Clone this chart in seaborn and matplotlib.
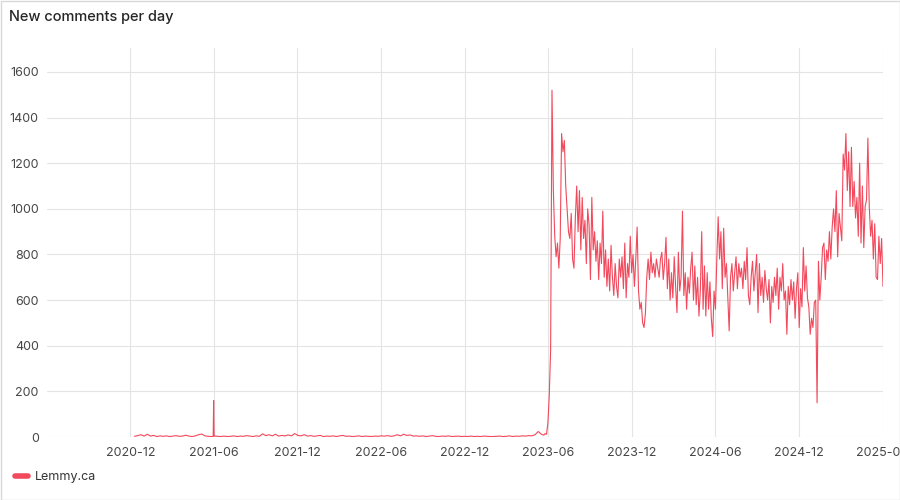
import pandas as pd
import matplotlib.pyplot as plt
import seaborn as sns
from matplotlib.lines import Line2D
from matplotlib.patches import Rectangle
import matplotlib.dates as mdates

# quiet period, one value per week starting 2020-12-10
quiet_start = "2020-12-10"
quiet_values = [
    3, 6, 10, 4, 12, 4, 7, 2, 5, 3, 5, 2, 4, 6, 3, 4, 8, 4, 2, 5, 10, 13, 5, 3, 2, 4,
    3, 2, 4, 2, 3, 5, 2, 4, 3, 6, 4, 2, 5, 3, 14, 6, 10, 5, 12, 4, 7, 5, 9, 5, 15, 7,
    5, 10, 4, 6, 3, 5, 7, 2, 4, 3, 5, 2, 5, 7, 3, 4, 2, 3, 5, 2, 4, 3, 2, 4, 3, 5,
    4, 6, 3, 5, 10, 5, 12, 7, 9, 4, 5, 3, 5, 2, 4, 6, 3, 2, 4, 3, 5, 2, 3, 4, 2, 3,
    2, 4, 2, 3, 2, 4, 3, 2, 2, 3, 4, 2, 3, 5, 2, 4, 3, 5, 4, 6, 5, 10, 24, 12,
]

# single-day spike in the quiet period
spike_dates = ["2021-05-31", "2021-06-01", "2021-06-02"]
spike_values = [3, 160, 4]

# active period, one value every 3 days starting 2023-05-23
active_start = "2023-05-23"
active_values = [
    8, 15, 12, 60, 180, 380, 1520, 1080, 880, 790,
    850, 740, 870, 1330, 1250, 1300, 1100, 1000, 900, 870,
    980, 780, 740, 960, 1100, 900, 1080, 820, 1050, 870,
    950, 760, 1000, 930, 690, 1050, 820, 900, 770, 860,
    690, 850, 760, 990, 700, 820, 660, 780, 640, 840,
    700, 620, 760, 660, 610, 780, 700, 790, 650, 850,
    610, 760, 700, 880, 720, 800, 660, 780, 920, 640,
    560, 590, 500, 480, 540, 700, 780, 690, 810, 720,
    760, 700, 780, 740, 700, 780, 810, 690, 760, 875,
    650, 780, 600, 720, 610, 790, 660, 545, 810, 640,
    700, 990, 620, 720, 560, 700, 630, 740, 810, 600,
    750, 580, 700, 530, 640, 900, 560, 750, 530, 720,
    560, 680, 520, 440, 640, 560, 780, 965, 780, 900,
    650, 915, 700, 760, 610, 465, 700, 760, 640, 720,
    790, 650, 760, 700, 740, 650, 770, 690, 830, 620,
    580, 700, 770, 640, 720, 800, 545, 760, 620, 700,
    590, 730, 650, 600, 690, 500, 660, 590, 700, 620,
    740, 560, 700, 640, 760, 600, 640, 450, 660, 580,
    690, 600, 680, 520, 650, 720, 480, 650, 570, 830,
    640, 750, 610, 570, 450, 520, 480, 590, 600, 150,
    770, 600, 700, 830, 850, 690, 820, 770, 900, 780,
    920, 1000, 900, 1080, 790, 980, 920, 860, 1240, 1170,
    1330, 1080, 1250, 1010, 1270, 1010, 1120, 960, 1050, 880,
    1200, 850, 1100, 830, 1010, 1040, 1310, 1010, 880, 950,
    780, 935, 700, 690, 880, 760, 870, 660,
]

series_name = "Lemmy.ca"
title = "New comments per day"
line_color = "#F2495C"

quiet = pd.DataFrame({
    "date": pd.date_range(quiet_start, periods=len(quiet_values), freq="7D"),
    "comments": quiet_values,
})
spike = pd.DataFrame({"date": pd.to_datetime(spike_dates), "comments": spike_values})
active = pd.DataFrame({
    "date": pd.date_range(active_start, periods=len(active_values), freq="3D"),
    "comments": active_values,
})
df = pd.concat([quiet, spike, active]).sort_values("date").reset_index(drop=True)

sns.set_theme(style="whitegrid")
plt.rcParams["font.family"] = ["Inter", "DejaVu Sans"]

fig = plt.figure(figsize=(9, 5), dpi=100)
ax = fig.add_axes([47 / 900, 1 - 437 / 500, (883 - 47) / 900, (437 - 48) / 500])

sns.lineplot(data=df, x="date", y="comments", ax=ax, color=line_color, linewidth=0.8, legend=False)

ax.set_xlim(pd.Timestamp("2020-06-02"), pd.Timestamp("2025-06-02"))
ax.set_ylim(0, 1705)
ax.set_yticks(range(0, 1601, 200))
ax.xaxis.set_major_locator(mdates.MonthLocator(bymonth=[6, 12]))
ax.xaxis.set_major_formatter(mdates.DateFormatter("%Y-%m"))
ax.set_xlabel("")
ax.set_ylabel("")

ax.grid(True, color="#e4e4e4", linewidth=0.8)
for s in ax.spines.values():
    s.set_visible(False)
ax.tick_params(axis="y", length=0, pad=6, labelsize=9, colors="#464646")
ax.tick_params(axis="x", length=4, width=0.8, color="#e4e4e4", pad=3, labelsize=9, colors="#464646")

fig.text(9 / 900, 1 - 17 / 500, title, fontsize=10.5, fontweight="medium", color="#262626", va="center", ha="left")

handle = Line2D([0], [0], color=line_color, linewidth=4, solid_capstyle="round")
fig.legend([handle], [series_name], loc="center left", bbox_to_anchor=(4 / 900, 1 - 477 / 500),
           frameon=False, fontsize=9, handlelength=1.0, handletextpad=0.6, labelcolor="#333333")

fig.patches.append(Rectangle((0.5 / 900, 0.5 / 500), 899 / 900, 499 / 500, transform=fig.transFigure,
                             fill=False, edgecolor="#d8d8d8", linewidth=1))

fig.savefig("out.png", dpi=100, facecolor="white")
